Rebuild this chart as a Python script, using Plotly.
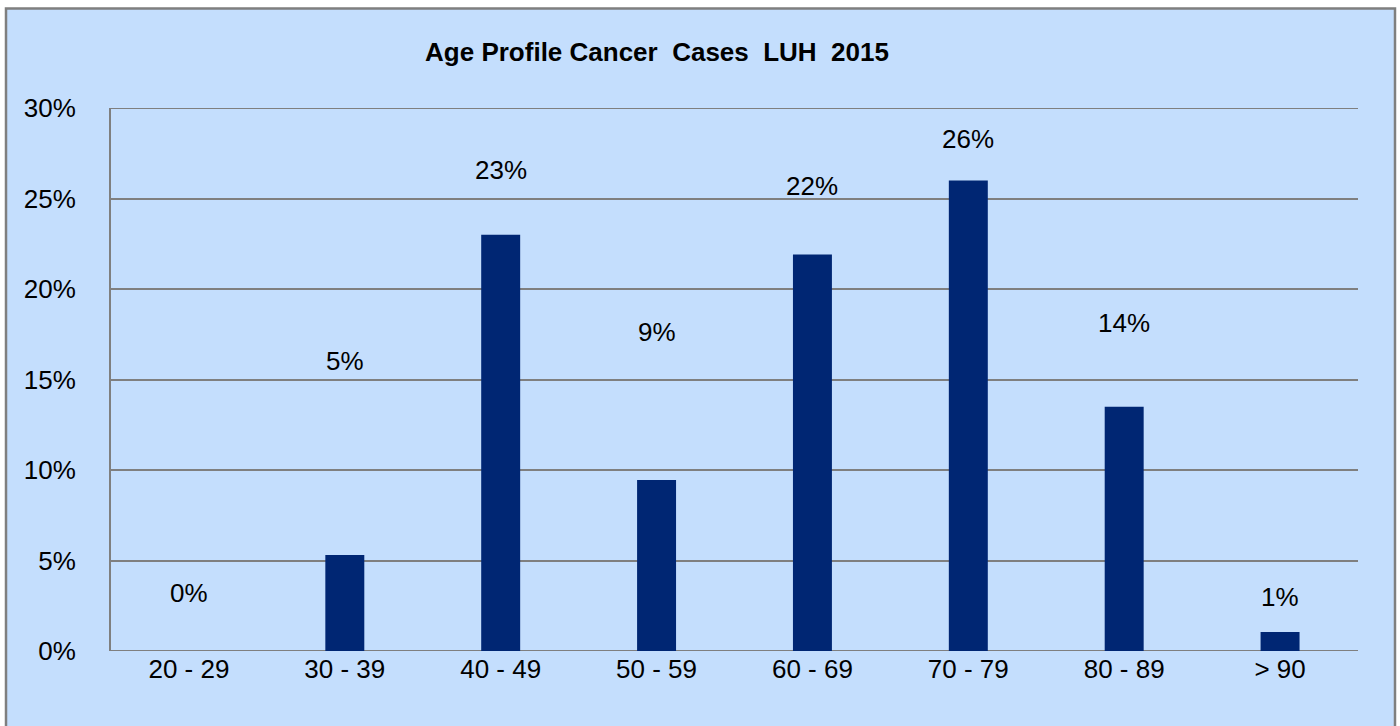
import plotly.graph_objects as go

categories = ["20 - 29", "30 - 39", "40 - 49", "50 - 59", "60 - 69", "70 - 79", "80 - 89", "> 90"]
values = [0.0, 0.053, 0.23, 0.0945, 0.219, 0.26, 0.135, 0.0105]
labels = ["0%", "5%", "23%", "9%", "22%", "26%", "14%", "1%"]
# manually placed label heights (as in the original chart)
label_y = [0.032, 0.160, 0.266, 0.176, 0.257, 0.283, 0.181, 0.030]
y_ticks = [0, 0.05, 0.10, 0.15, 0.20, 0.25, 0.30]
y_ticktext = ["0%", "5%", "10%", "15%", "20%", "25%", "30%"]

BG = "#C4DEFD"
GRID = "#7F7F7F"
BAR = "#002673"
FONT = "Liberation Sans"

fig = go.Figure()
fig.add_trace(go.Bar(x=categories, y=values, marker=dict(color=BAR, line=dict(width=0)),
                     hoverinfo="skip"))

for c, t, ly in zip(categories, labels, label_y):
    fig.add_annotation(x=c, y=ly, text=t, showarrow=False, xref="x", yref="y",
                       font=dict(family=FONT, size=26, color="black"))

W, H = 1400, 726
L, R, T, B = 111, 42, 108, 75
pw, ph = W - L - R, H - T - B

def px_x(p):
    return (p - L) / pw

def px_y(p):
    return (H - B - p) / ph

fig.add_shape(type="rect", xref="paper", yref="paper",
              x0=px_x(6), x1=px_x(1395), y0=px_y(740), y1=px_y(8.5),
              fillcolor=BG, line=dict(color=GRID, width=2.5), layer="below")
# edge gridlines (plotly clips gridlines lying exactly on the plot edges)
for yv in (y_ticks[0], y_ticks[-1]):
    fig.add_shape(type="line", xref="paper", yref="y", x0=0, x1=1, y0=yv, y1=yv,
                  line=dict(color=GRID, width=2), layer="below")

fig.update_layout(
    width=W, height=H,
    margin=dict(l=L, r=R, t=T, b=B, pad=0),
    paper_bgcolor="white",
    plot_bgcolor="rgba(0,0,0,0)",
    bargap=0.75,
    showlegend=False,
    title=dict(text="Age Profile Cancer\u00a0\u00a0Cases\u00a0\u00a0LUH\u00a0\u00a02015",
               x=657 / W, xref="container", xanchor="center",
               y=1 - 52 / H, yref="container", yanchor="middle",
               font=dict(family=FONT, size=26, color="black", weight="bold")),
    font=dict(family=FONT, size=26, color="black"),
    xaxis=dict(showgrid=False, showline=False, zeroline=False, ticks="",
               tickfont=dict(family=FONT, size=26, color="black"),
               ticklabelstandoff=0),
    yaxis=dict(range=[0, 0.30], tickvals=y_ticks, ticktext=y_ticktext,
               showgrid=True, gridcolor=GRID, gridwidth=2,
               zeroline=False, showline=True, linecolor=GRID, linewidth=2,
               ticks="", tickfont=dict(family=FONT, size=26, color="black"),
               ticklabelstandoff=28),
)

fig.write_html("out.html", config={"displayModeBar": False},
               post_script="document.body.style.margin='0';document.body.style.padding='0';")
